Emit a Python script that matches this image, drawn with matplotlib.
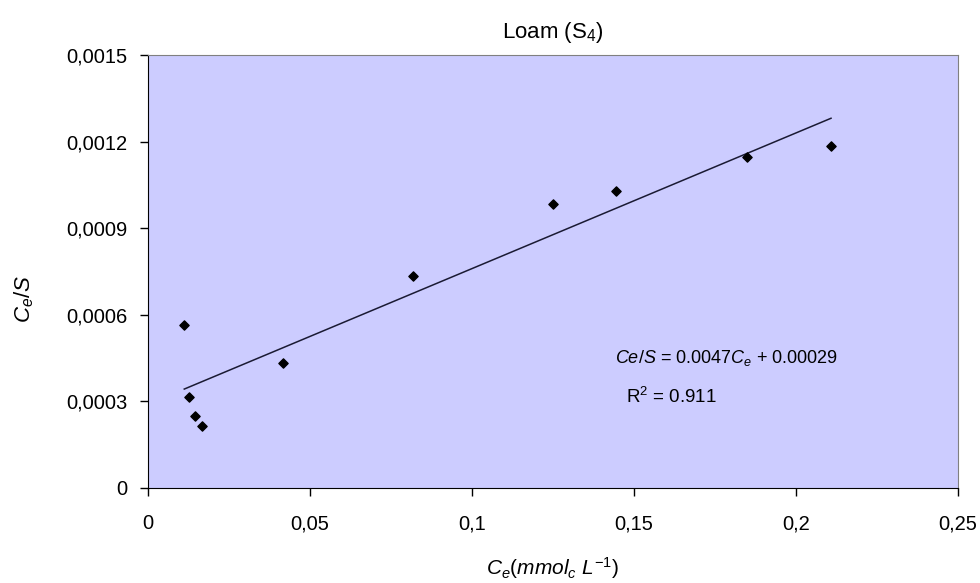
import numpy as np
import matplotlib
matplotlib.use("Agg")
import matplotlib.pyplot as plt

plt.rcParams['font.family'] = ['Liberation Sans', 'DejaVu Sans']
plt.rcParams['mathtext.fontset'] = 'custom'
plt.rcParams['mathtext.rm'] = 'Liberation Sans'
plt.rcParams['mathtext.it'] = 'Liberation Sans:italic'

# donnees
ce = [0.0112, 0.0126, 0.0145, 0.0168, 0.0416, 0.0817, 0.1251, 0.1444, 0.1849, 0.2108]
ce_s = [0.000565, 0.000316, 0.000250, 0.000216, 0.000434, 0.000736, 0.000983, 0.00103, 0.001147, 0.001185]
slope = 0.0047
intercept = 0.00029
r2 = 0.911

xticks = [0, 0.05, 0.1, 0.15, 0.2, 0.25]
xlabels = ["0", "0,05", "0,1", "0,15", "0,2", "0,25"]
yticks = [0, 0.0003, 0.0006, 0.0009, 0.0012, 0.0015]
ylabels = ["0", "0,0003", "0,0006", "0,0009", "0,0012", "0,0015"]

fig = plt.figure(figsize=(9.8, 5.83), dpi=100)
ax = fig.add_axes([0.151, 0.163, 0.8266, 0.7427])
ax.set_facecolor("#ccccff")

ax.scatter(ce, ce_s, marker="D", s=22, color="black", zorder=3)
xfit = np.array([min(ce), max(ce)])
ax.plot(xfit, slope * xfit + intercept, color="#1a1a33", lw=1.1, zorder=2)

ax.set_xlim(0, 0.25)
ax.set_ylim(0, 0.0015)
ax.set_xticks(xticks)
ax.set_xticklabels(xlabels)
ax.set_yticks(yticks)
ax.set_yticklabels(ylabels)
ax.tick_params(direction="out", length=6, width=1, labelsize=14.5, color="black")
ax.tick_params(axis="x", pad=13)
ax.tick_params(axis="y", pad=9)

for s in ["top", "right"]:
    ax.spines[s].set_color("#808080")
for s in ["left", "bottom"]:
    ax.spines[s].set_color("black")

ax.set_title("Loam (S$_4$)", fontsize=16, pad=12)
ax.set_xlabel("$C_e$$(mmol_c\\ L^{-1})$", fontsize=15, labelpad=16)
ax.set_ylabel("$C_e/S$", fontsize=16)
ax.yaxis.set_label_coords(-0.138, 0.436)

ax.text(0.1785, 0.000450, "$Ce/S$ = %.4f$C_e$ + %.5f" % (slope, intercept),
        ha="center", va="center", fontsize=13)
ax.text(0.1615, 0.000317, "R$^2$ = %.3f" % r2, ha="center", va="center", fontsize=13.5)

fig.savefig("out.png", dpi=100)
